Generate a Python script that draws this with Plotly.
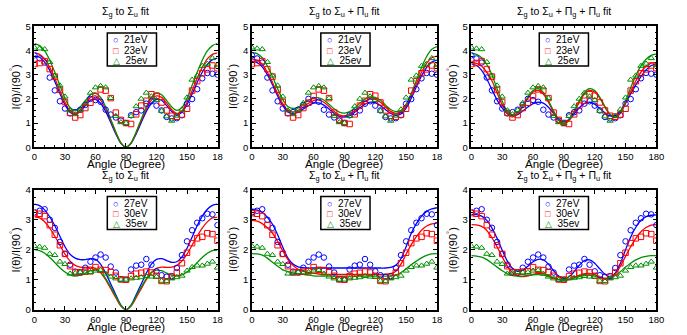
import plotly.graph_objects as go

W, H = 687, 335

ANGLES = [0, 5, 10, 15, 20, 25, 30, 35, 40, 45, 50, 55, 60, 65, 70, 75, 80, 85, 90,
          95, 100, 105, 110, 115, 120, 125, 130, 135, 140, 145, 150, 155, 160, 165, 170, 175, 180]

TOP_NAMES = ['21eV', '23eV', '25ev']
BOT_NAMES = ['27eV', '30eV', '35ev']

# measured points, top row (same in the three top panels)
top_21 = [3.8, 3.67, 3.5, 2.88, 2.35, 1.9, 1.6, 1.4, 1.45, 1.55, 1.75, 2.0, 1.95, 1.88, 1.55, 1.35, 1.23, 1.1, 1.0,
          1.32, 1.45, 1.52, 1.8, 1.9, 1.72, 1.52, 1.25, 1.19, 1.2, 1.32, 1.8, 1.99, 2.4, 2.85, 3.07, 3.04, 3.0]
top_23 = [3.44, 3.48, 3.56, 3.23, 2.92, 2.37, 1.87, 1.42, 1.23, 1.33, 1.62, 1.84, 2.12, 2.39, 2.34, 2.03, 1.43, 1.13, 1.0,
          0.96, 1.36, 1.72, 1.92, 2.19, 2.13, 1.85, 1.52, 1.3, 1.26, 1.35, 1.59, 2.34, 2.73, 3.06, 3.22, 3.38, 3.27]
top_25 = [4.12, 4.08, 4.05, 3.52, 2.96, 2.55, 2.09, 1.52, 1.36, 1.53, 1.83, 2.25, 2.47, 2.53, 2.47, 2.03, 1.29, 1.03, 1.0,
          1.29, 1.69, 2.0, 2.25, 2.1, 1.95, 1.5, 1.27, 1.09, 1.3, 1.56, 2.05, 2.79, 2.96, 3.36, 3.45, 3.68, 3.39]

# measured points, bottom row
bot_27 = [3.25, 3.3, 3.35, 3.0, 2.73, 2.26, 1.86, 1.5, 1.27, 1.24, 1.4, 1.6, 1.74, 1.84, 1.74, 1.44, 1.24, 1.02, 1.0,
          1.34, 1.47, 1.5, 1.69, 1.5, 1.28, 1.15, 1.1, 1.12, 1.39, 1.82, 2.28, 2.65, 2.9, 3.05, 3.2, 3.18, 2.82]
bot_30 = [3.22, 3.2, 3.12, 2.82, 2.5, 2.15, 1.86, 1.45, 1.24, 1.25, 1.27, 1.28, 1.42, 1.33, 1.32, 1.25, 1.13, 1.01, 1.0,
          1.12, 1.2, 1.23, 1.27, 1.24, 1.13, 0.96, 0.95, 1.1, 1.24, 1.55, 1.9, 2.22, 2.38, 2.43, 2.55, 2.52, 2.3]
bot_35 = [2.12, 2.1, 2.06, 1.86, 1.82, 1.6, 1.52, 1.2, 1.22, 1.25, 1.24, 1.25, 1.3, 1.32, 1.2, 1.1, 1.04, 1.0, 1.0,
          1.04, 1.06, 1.08, 1.12, 1.1, 1.1, 0.96, 0.95, 1.04, 1.08, 1.13, 1.3, 1.42, 1.47, 1.47, 1.53, 1.6, 1.4]

# fitted curves
fit_su_21 = [3.78, 3.72, 3.52, 3.18, 2.72, 2.22, 1.76, 1.45, 1.36, 1.48, 1.72, 1.94, 1.98, 1.82, 1.48, 1.02, 0.55, 0.16, 0.0,
             0.16, 0.55, 1.02, 1.48, 1.82, 1.98, 1.94, 1.72, 1.48, 1.36, 1.45, 1.76, 2.2, 2.68, 3.1, 3.42, 3.62, 3.68]
fit_su_23 = [3.9, 3.84, 3.65, 3.3, 2.85, 2.33, 1.85, 1.5, 1.4, 1.55, 1.82, 2.06, 2.12, 1.95, 1.58, 1.1, 0.6, 0.17, 0.0,
             0.17, 0.6, 1.1, 1.58, 1.95, 2.12, 2.06, 1.82, 1.55, 1.4, 1.5, 1.85, 2.33, 2.85, 3.3, 3.65, 3.84, 3.9]
fit_su_25 = [4.28, 4.2, 3.98, 3.6, 3.1, 2.55, 2.02, 1.64, 1.52, 1.66, 1.93, 2.17, 2.24, 2.06, 1.67, 1.16, 0.63, 0.18, 0.0,
             0.18, 0.63, 1.16, 1.67, 2.06, 2.24, 2.17, 1.93, 1.66, 1.52, 1.64, 2.02, 2.55, 3.1, 3.6, 3.98, 4.2, 4.3]

fit_sp_21 = [3.55, 3.5, 3.32, 3.0, 2.58, 2.12, 1.72, 1.46, 1.38, 1.45, 1.58, 1.72, 1.82, 1.83, 1.74, 1.58, 1.4, 1.28, 1.25,
             1.3, 1.45, 1.62, 1.78, 1.86, 1.84, 1.72, 1.55, 1.4, 1.33, 1.38, 1.62, 2.02, 2.5, 2.95, 3.3, 3.52, 3.6]
fit_sp_23 = [3.65, 3.6, 3.43, 3.1, 2.68, 2.22, 1.8, 1.53, 1.45, 1.52, 1.66, 1.82, 1.93, 1.95, 1.86, 1.68, 1.48, 1.34, 1.3,
             1.36, 1.52, 1.72, 1.9, 1.99, 1.98, 1.86, 1.66, 1.48, 1.4, 1.45, 1.7, 2.12, 2.62, 3.1, 3.48, 3.7, 3.77]
fit_sp_25 = [3.92, 3.87, 3.7, 3.36, 2.92, 2.42, 1.97, 1.68, 1.6, 1.66, 1.8, 1.94, 2.03, 2.04, 1.95, 1.78, 1.59, 1.45, 1.41,
             1.47, 1.62, 1.82, 1.99, 2.07, 2.06, 1.94, 1.74, 1.56, 1.47, 1.52, 1.78, 2.22, 2.76, 3.3, 3.75, 4.05, 4.16]

fit_spp_21 = [3.45, 3.38, 3.18, 2.82, 2.38, 1.96, 1.62, 1.4, 1.3, 1.35, 1.5, 1.66, 1.8, 1.86, 1.82, 1.65, 1.4, 1.16, 1.05,
              1.14, 1.38, 1.63, 1.81, 1.86, 1.78, 1.6, 1.42, 1.3, 1.32, 1.5, 1.82, 2.2, 2.58, 2.92, 3.2, 3.38, 3.45]
fit_spp_23 = [3.5, 3.47, 3.35, 3.1, 2.75, 2.25, 1.75, 1.38, 1.25, 1.38, 1.68, 2.02, 2.28, 2.35, 2.2, 1.86, 1.45, 1.1, 0.97,
              1.1, 1.45, 1.86, 2.2, 2.35, 2.28, 2.02, 1.66, 1.34, 1.22, 1.4, 1.82, 2.3, 2.74, 3.1, 3.35, 3.48, 3.5]
fit_spp_25 = [3.88, 3.84, 3.7, 3.42, 3.0, 2.42, 1.9, 1.47, 1.3, 1.42, 1.72, 2.08, 2.34, 2.42, 2.27, 1.92, 1.5, 1.14, 1.0,
              1.14, 1.5, 1.92, 2.27, 2.42, 2.34, 2.06, 1.68, 1.35, 1.25, 1.45, 1.92, 2.46, 2.96, 3.36, 3.64, 3.8, 3.85]

fit_bsu_27 = [3.52, 3.47, 3.33, 3.1, 2.8, 2.45, 2.1, 1.85, 1.72, 1.67, 1.67, 1.7, 1.68, 1.52, 1.22, 0.86, 0.5, 0.15, 0.0,
              0.15, 0.5, 0.86, 1.22, 1.52, 1.68, 1.7, 1.64, 1.58, 1.6, 1.76, 2.05, 2.42, 2.8, 3.12, 3.35, 3.48, 3.52]
fit_bsu_30 = [3.1, 3.06, 2.93, 2.72, 2.45, 2.15, 1.85, 1.62, 1.48, 1.42, 1.41, 1.42, 1.38, 1.24, 1.0, 0.7, 0.4, 0.12, 0.0,
              0.12, 0.4, 0.7, 1.0, 1.24, 1.38, 1.42, 1.41, 1.42, 1.48, 1.62, 1.85, 2.15, 2.45, 2.72, 2.93, 3.06, 3.08]
fit_bsu_35 = [2.0, 1.97, 1.88, 1.74, 1.57, 1.4, 1.26, 1.16, 1.12, 1.15, 1.22, 1.3, 1.32, 1.24, 1.04, 0.76, 0.45, 0.14, 0.0,
              0.14, 0.45, 0.76, 1.04, 1.24, 1.32, 1.3, 1.22, 1.15, 1.12, 1.16, 1.26, 1.4, 1.57, 1.74, 1.88, 1.97, 1.99]

fit_bsp_27 = [3.35, 3.32, 3.25, 3.08, 2.85, 2.5, 2.08, 1.72, 1.52, 1.43, 1.4, 1.39, 1.39, 1.39, 1.39, 1.39, 1.39, 1.39, 1.39,
              1.39, 1.39, 1.39, 1.39, 1.39, 1.39, 1.39, 1.39, 1.41, 1.48, 1.7, 2.1, 2.55, 2.87, 3.12, 3.28, 3.36, 3.4]
fit_bsp_30 = [2.98, 2.95, 2.87, 2.73, 2.55, 2.28, 1.96, 1.67, 1.47, 1.35, 1.28, 1.24, 1.21, 1.19, 1.18, 1.18, 1.18, 1.18, 1.18,
              1.18, 1.18, 1.18, 1.18, 1.18, 1.18, 1.18, 1.18, 1.2, 1.28, 1.52, 1.85, 2.17, 2.44, 2.65, 2.79, 2.86, 2.89]
fit_bsp_35 = [1.87, 1.86, 1.82, 1.72, 1.58, 1.45, 1.33, 1.27, 1.23, 1.2, 1.18, 1.15, 1.13, 1.12, 1.12, 1.12, 1.12, 1.12, 1.12,
              1.12, 1.12, 1.12, 1.12, 1.12, 1.12, 1.12, 1.12, 1.13, 1.16, 1.24, 1.36, 1.5, 1.62, 1.73, 1.81, 1.86, 1.87]

fit_bspp_27 = [3.18, 3.17, 3.12, 2.98, 2.72, 2.38, 1.98, 1.62, 1.38, 1.28, 1.32, 1.45, 1.6, 1.68, 1.66, 1.52, 1.3, 1.12, 1.04,
               1.1, 1.27, 1.48, 1.64, 1.66, 1.55, 1.36, 1.18, 1.1, 1.22, 1.55, 2.0, 2.42, 2.75, 2.98, 3.1, 3.15, 3.16]
fit_bspp_30 = [2.84, 2.83, 2.78, 2.64, 2.4, 2.1, 1.76, 1.45, 1.24, 1.13, 1.1, 1.13, 1.18, 1.21, 1.2, 1.14, 1.06, 1.0, 0.98,
               1.0, 1.07, 1.14, 1.2, 1.21, 1.17, 1.1, 1.04, 1.05, 1.18, 1.45, 1.78, 2.1, 2.38, 2.6, 2.74, 2.82, 2.84]
fit_bspp_35 = [1.8, 1.79, 1.75, 1.67, 1.55, 1.42, 1.3, 1.2, 1.14, 1.12, 1.12, 1.14, 1.16, 1.17, 1.15, 1.1, 1.05, 1.01, 1.0,
               1.01, 1.05, 1.1, 1.14, 1.15, 1.12, 1.07, 1.04, 1.06, 1.14, 1.27, 1.42, 1.55, 1.66, 1.74, 1.78, 1.8, 1.8]

TITLES = ['Σ<sub>g</sub> to Σ<sub>u</sub> fit',
          'Σ<sub>g</sub> to Σ<sub>u</sub> + Π<sub>u</sub> fit',
          'Σ<sub>g</sub> to Σ<sub>u</sub> + Π<sub>g</sub> + Π<sub>u</sub> fit']

COLORS = ['#0000ff', '#ff0000', '#009000']
SYMBOLS = ['circle-open', 'square-open', 'triangle-up-open']
GLYPHS = ['○', '□', '△']
FONT = 'Liberation Sans, Arial, sans-serif'

# plot-area boxes in pixels (left, right, top, bottom)
COLS = [(32, 218), (253, 441), (476, 664)]
ROWS = [(21, 146), (190, 314)]
LEGEND_CX = [131, 348, 570]   # legend box centres, pixels

panels = [
    (0, 0, [top_21, top_23, top_25], [fit_su_21, fit_su_23, fit_su_25], TOP_NAMES, 5),
    (0, 1, [top_21, top_23, top_25], [fit_sp_21, fit_sp_23, fit_sp_25], TOP_NAMES, 5),
    (0, 2, [top_21, top_23, top_25], [fit_spp_21, fit_spp_23, fit_spp_25], TOP_NAMES, 5),
    (1, 0, [bot_27, bot_30, bot_35], [fit_bsu_27, fit_bsu_30, fit_bsu_35], BOT_NAMES, 4),
    (1, 1, [bot_27, bot_30, bot_35], [fit_bsp_27, fit_bsp_30, fit_bsp_35], BOT_NAMES, 4),
    (1, 2, [bot_27, bot_30, bot_35], [fit_bspp_27, fit_bspp_30, fit_bspp_35], BOT_NAMES, 4),
]


def px(x):
    return x / W


def py(y):
    return 1 - y / H


fig = go.Figure()
annotations = []
shapes = []

for k, (r, c, pts, fits, names, ymax) in enumerate(panels, start=1):
    xa = 'x' if k == 1 else 'x%d' % k
    ya = 'y' if k == 1 else 'y%d' % k
    x0, x1 = COLS[c]
    y0, y1 = ROWS[r]

    for i in range(3):
        fig.add_trace(go.Scatter(x=ANGLES, y=fits[i], mode='lines', line=dict(color=COLORS[i], width=1.3, shape='spline', smoothing=0.8),
                                 xaxis=xa, yaxis=ya, showlegend=False, hoverinfo='skip'))
    for i in range(3):
        fig.add_trace(go.Scatter(x=ANGLES, y=pts[i], mode='markers', name=names[i],
                                 marker=dict(symbol=SYMBOLS[i], size=5.5, color=COLORS[i], line=dict(width=1, color=COLORS[i])),
                                 xaxis=xa, yaxis=ya, showlegend=False))

    last = '180' if c == 2 else '18'   # the neighbour panel cuts the label in the original
    fig.update_layout(**{
        ('xaxis' if k == 1 else 'xaxis%d' % k): dict(
            domain=[px(x0), px(x1)], anchor=ya, range=[0, 180],
            tickmode='array', tickvals=[0, 30, 60, 90, 120, 150, 180],
            ticktext=['0', '30', '60', '90', '120', '150', last],
            ticks='inside', ticklen=4, tickwidth=1, tickcolor='black',
            minor=dict(dtick=10, ticks='inside', ticklen=2, tickcolor='black'),
            showline=True, linecolor='black', linewidth=1.5, mirror='allticks',
            showgrid=False, zeroline=False, tickfont=dict(family=FONT, size=9.5, color='black')),
        ('yaxis' if k == 1 else 'yaxis%d' % k): dict(
            domain=[py(y1), py(y0)], anchor=xa, range=[0, ymax],
            tick0=0, dtick=1, ticks='inside', ticklen=4, tickwidth=1, tickcolor='black',
            minor=dict(dtick=0.25, ticks='inside', ticklen=2, tickcolor='black'),
            showline=True, linecolor='black', linewidth=1.5, mirror='allticks',
            showgrid=False, zeroline=False, tickfont=dict(family=FONT, size=9.5, color='black')),
    })

    xc = (x0 + x1) / 2
    # panel title
    annotations.append(dict(text=TITLES[c], x=px(xc), y=py(y0 - 5), xref='paper', yref='paper',
                            xanchor='center', yanchor='bottom', showarrow=False,
                            font=dict(family=FONT, size=10.5, color='black')))
    # x-axis title
    annotations.append(dict(text='Angle (Degree)', x=px(xc), y=py(y1 + 9.5), xref='paper', yref='paper',
                            xanchor='center', yanchor='top', showarrow=False,
                            font=dict(family=FONT, size=11.5, color='black')))
    # y-axis title
    annotations.append(dict(text='I(θ)/I(90<sup>°</sup>)', x=px(x0 - 20), y=py((y0 + y1) / 2),
                            xref='paper', yref='paper', xanchor='center', yanchor='middle', textangle=-90,
                            showarrow=False, font=dict(family=FONT, size=11, color='black')))
    # legend box: framed rectangle and three rows
    lx0, lx1 = LEGEND_CX[c] - 25, LEGEND_CX[c] + 25
    ly0, ly1 = y0 + 7, y0 + 41
    shapes.append(dict(type='rect', xref='paper', yref='paper', x0=px(lx0), x1=px(lx1), y0=py(ly1), y1=py(ly0),
                       line=dict(color='black', width=1.5), fillcolor='white', layer='above'))
    for i in range(3):
        annotations.append(dict(text='<span style="color:%s;font-size:9px">%s</span>  %s' % (COLORS[i], GLYPHS[i], names[i]),
                                x=px(lx0 + 4), y=py(ly0 + 7 + 10.5 * i), xref='paper', yref='paper',
                                xanchor='left', yanchor='middle', align='left', showarrow=False,
                                font=dict(family=FONT, size=10, color='black')))

fig.update_layout(width=W, height=H, margin=dict(l=0, r=0, t=0, b=0),
                  paper_bgcolor='white', plot_bgcolor='white', showlegend=False,
                  annotations=annotations, shapes=shapes)

# drop the page's default 8px body margin so the figure sits at the window's corner
fig.write_html('out.html', config={'displayModeBar': False},
               post_script="document.body.style.margin='0';document.body.style.overflow='hidden';")
